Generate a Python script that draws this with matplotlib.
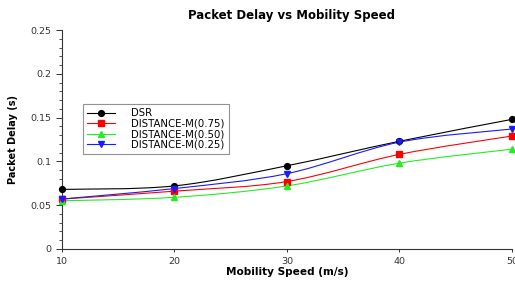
import matplotlib
matplotlib.use("Agg")
import matplotlib.pyplot as plt
from matplotlib.path import Path
from matplotlib.patches import PathPatch
from matplotlib.lines import Line2D
import numpy as np

speeds = [10, 20, 30, 40, 50]
dsr = [0.068, 0.072, 0.095, 0.123, 0.148]
dm075 = [0.057, 0.066, 0.077, 0.108, 0.129]
dm050 = [0.055, 0.059, 0.072, 0.098, 0.114]
dm025 = [0.057, 0.069, 0.086, 0.122, 0.137]

labels = ["DSR", "DISTANCE-M(0.75)", "DISTANCE-M(0.50)", "DISTANCE-M(0.25)"]
colors = ["#000000", "#ff0000", "#22ee22", "#1a1aff"]
markers = ["o", "s", "^", "v"]
series = [dsr, dm075, dm050, dm025]

fig = plt.figure(figsize=(5.15, 2.81), dpi=100)
ax = fig.add_axes([0.120, 0.114, 0.874, 0.779])


def smooth_path(x, y):
    x = np.asarray(x, float)
    y = np.asarray(y, float)
    n = len(x)
    verts = [(x[0], y[0])]
    codes = [Path.MOVETO]
    for i in range(n - 1):
        x0, y0 = (x[i - 1], y[i - 1]) if i > 0 else (x[i], y[i])
        x3, y3 = (x[i + 2], y[i + 2]) if i + 2 < n else (x[i + 1], y[i + 1])
        c1 = (x[i] + (x[i + 1] - x0) / 6.0, y[i] + (y[i + 1] - y0) / 6.0)
        c2 = (x[i + 1] - (x3 - x[i]) / 6.0, y[i + 1] - (y3 - y[i]) / 6.0)
        verts += [c1, c2, (x[i + 1], y[i + 1])]
        codes += [Path.CURVE4, Path.CURVE4, Path.CURVE4]
    return Path(verts, codes)


handles = []
for vals, lab, c, m in zip(series, labels, colors, markers):
    patch = PathPatch(smooth_path(speeds, vals), facecolor="none",
                      edgecolor=c, lw=0.8, zorder=2)
    ax.add_patch(patch)
    ax.plot(speeds, vals, linestyle="none", marker=m, color=c,
            markersize=4.2, zorder=3, clip_on=False)
    handles.append(Line2D([], [], color=c, lw=0.8, marker=m, markersize=4.2))

ax.set_xlim(10, 50)
ax.set_ylim(0, 0.25)
ax.set_xticks(speeds)
ax.set_xticklabels([str(s) for s in speeds])
ax.set_yticks([0, 0.05, 0.1, 0.15, 0.2, 0.25])
ax.set_yticklabels(["0", "0.05", "0.1", "0.15", "0.2", "0.25"])
ax.set_yticks(np.arange(0, 0.2501, 0.01), minor=True)

for s in ["top", "right"]:
    ax.spines[s].set_visible(False)
for s in ["left", "bottom"]:
    ax.spines[s].set_color("#333333")
    ax.spines[s].set_linewidth(0.8)

ax.tick_params(axis="both", which="major", labelsize=6.8, colors="#333333",
               length=4, width=0.7)
ax.tick_params(axis="y", which="minor", length=2.5, width=0.6, colors="#333333")
ax.tick_params(axis="x", which="major", length=2)

ax.set_title("Packet Delay vs Mobility Speed", fontsize=8.5, fontweight="bold",
             pad=8, x=0.51)
ax.set_xlabel("Mobility Speed (m/s)", fontsize=7.6, fontweight="bold", labelpad=1)
ax.set_ylabel("Packet Delay (s)", fontsize=7, fontweight="bold", labelpad=9)

leg = ax.legend(handles, labels, loc="upper left", bbox_to_anchor=(0.035, 0.685),
                fontsize=7.3, frameon=True, fancybox=False, handlelength=2.8,
                borderpad=0.4, labelspacing=0.05, handletextpad=1.6)
leg.get_frame().set_edgecolor("#777777")
leg.get_frame().set_linewidth(0.8)

fig.savefig("out.png", dpi=100)
